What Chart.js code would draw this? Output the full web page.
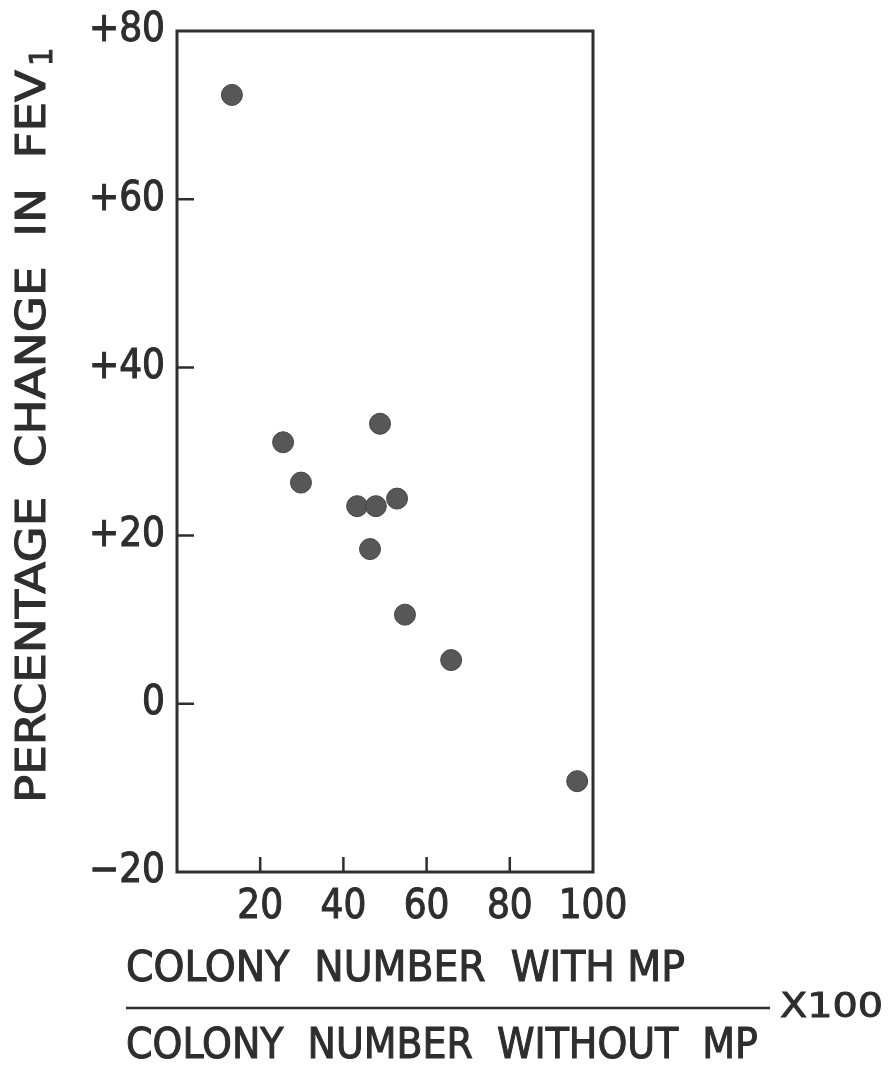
<!DOCTYPE html>
<html>
<head>
<meta charset="utf-8">
<script src="https://cdn.jsdelivr.net/npm/chart.js@4/dist/chart.umd.min.js"></script>
<style>
  body { margin: 0; background: #fff; }
  #wrap { width: 892px; height: 1068px; }
</style>
</head>
<body>
<div id="wrap"><canvas id="fevChart" width="892" height="1068"></canvas></div>
<script>
// values
const colonyRatio = [13.2, 25.5, 29.8, 48.8, 43.3, 47.8, 52.9, 46.4, 54.8, 65.9, 96.2];
const fevChange = [72.4, 31.1, 26.3, 33.3, 23.5, 23.5, 24.4, 18.4, 10.6, 5.2, -9.2];

const xTickLabels = { 20: "20", 40: "40", 60: "60", 80: "80", 100: "100" };
const yTickLabels = { "-20": "\u221220", 0: "0", 20: "+20", 40: "+40", 60: "+60", 80: "+80" };
const yTitle = "PERCENTAGE  CHANGE  IN  FEV";
const xTitleTop = "COLONY  NUMBER  WITH MP";
const xTitleBottom = "COLONY  NUMBER  WITHOUT  MP";
const xTitleFactor = "X100";

const ink = "#2e2e2e";
const fontFam = "'DejaVu Sans Condensed', 'Liberation Sans Narrow', 'DejaVu Sans', sans-serif";

const points = colonyRatio.map((x, i) => ({ x: x, y: fevChange[i] }));

// draw text squeezed to a given width, with a light stroke to thicken it
function fitText(ctx, text, x, y, width) {
  const w = ctx.measureText(text).width;
  ctx.save();
  ctx.translate(x, y);
  ctx.scale(width / w, 1);
  ctx.fillText(text, 0, 0);
  ctx.strokeText(text, 0, 0);
  ctx.restore();
}

const framePlugin = {
  id: "frame",
  afterDraw(chart) {
    const ctx = chart.ctx;
    const a = chart.chartArea;
    const xs = chart.scales.x;
    const ys = chart.scales.y;
    ctx.save();
    ctx.strokeStyle = ink;
    ctx.lineWidth = 3;
    ctx.strokeRect(a.left, a.top, a.right - a.left, a.bottom - a.top);

    // inward ticks
    ctx.lineWidth = 2.5;
    ctx.beginPath();
    [0, 20, 40, 60].forEach((v) => {
      const py = ys.getPixelForValue(v);
      ctx.moveTo(a.left, py);
      ctx.lineTo(a.left + 17, py);
    });
    [20, 40, 60, 80].forEach((v) => {
      const px = xs.getPixelForValue(v);
      ctx.moveTo(px, a.bottom);
      ctx.lineTo(px, a.bottom - 15);
    });
    ctx.stroke();

    // x title as a fraction
    ctx.fillStyle = ink;
    ctx.textAlign = "left";
    ctx.textBaseline = "alphabetic";
    ctx.lineWidth = 1;
    ctx.font = "42px " + fontFam;
    fitText(ctx, xTitleTop, 126, 981, 559);
    fitText(ctx, xTitleBottom, 126, 1058, 632);
    ctx.lineWidth = 2.5;
    ctx.beginPath();
    ctx.moveTo(126, 1008);
    ctx.lineTo(770, 1008);
    ctx.stroke();
    ctx.lineWidth = 0.8;
    ctx.font = "34px " + fontFam;
    fitText(ctx, xTitleFactor, 780, 1017, 103);

    // y title, rotated
    ctx.save();
    ctx.translate(45, 803);
    ctx.rotate(-Math.PI / 2);
    ctx.lineWidth = 1;
    ctx.font = "41px " + fontFam;
    fitText(ctx, yTitle, 0, 0, 733);
    ctx.font = "32px " + fontFam;
    ctx.fillText("1", 737, 7);
    ctx.strokeText("1", 737, 7);
    ctx.restore();

    ctx.restore();
  },
};

new Chart(document.getElementById("fevChart"), {
  type: "scatter",
  data: {
    datasets: [
      {
        data: points,
        backgroundColor: "#575757",
        borderColor: "#444",
        borderWidth: 1,
        pointRadius: 10.5,
        pointHoverRadius: 10.5,
      },
    ],
  },
  options: {
    responsive: false,
    animation: false,
    layout: { padding: { left: 0, top: 31, right: 299, bottom: 0 } },
    plugins: {
      legend: { display: false },
      tooltip: { enabled: false },
    },
    scales: {
      x: {
        type: "linear",
        min: 0,
        max: 100,
        grid: { display: false, drawTicks: false },
        border: { display: false },
        ticks: {
          stepSize: 20,
          padding: 12,
          color: ink,
          textStrokeColor: ink,
          textStrokeWidth: 1,
          font: { family: fontFam, size: 40 },
          maxRotation: 0,
          callback: (v) => xTickLabels[v] || "",
        },
        afterFit: (s) => {
          s.height = 196;
          s.paddingLeft = 0;
          s.paddingRight = 0;
        },
      },
      y: {
        type: "linear",
        min: -20,
        max: 80,
        grid: { display: false, drawTicks: false },
        border: { display: false },
        ticks: {
          stepSize: 20,
          padding: 12,
          color: ink,
          textStrokeColor: ink,
          textStrokeWidth: 1,
          font: { family: fontFam, size: 40 },
          callback: (v) => yTickLabels[v] || "",
        },
        afterFit: (s) => {
          s.width = 177;
          s.paddingTop = 0;
          s.paddingBottom = 0;
        },
      },
    },
  },
  plugins: [framePlugin],
});
</script>
</body>
</html>
